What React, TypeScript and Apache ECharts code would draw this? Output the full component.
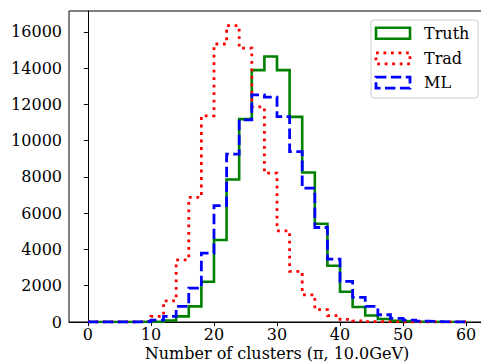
import React, { useEffect, useRef } from "react";
import * as echarts from "echarts";

const binEdges = [0, 2, 4, 6, 8, 10, 12, 14, 16, 18, 20, 22, 24, 26, 28, 30, 32, 34, 36, 38, 40, 42, 44, 46, 48, 50, 52, 54, 56, 58, 60];
const truthCounts = [0, 0, 0, 0, 5, 20, 80, 310, 860, 2220, 4520, 7860, 11190, 13890, 14640, 13890, 11310, 8240, 5420, 3100, 1670, 830, 360, 165, 60, 25, 10, 3, 1, 0];
const tradCounts = [0, 0, 0, 0, 30, 310, 1170, 3430, 6870, 11370, 15330, 16340, 15100, 11860, 8210, 5030, 2790, 1500, 680, 350, 150, 60, 20, 5, 1, 0, 0, 0, 0, 0];
const mlCounts = [0, 0, 0, 0, 20, 100, 310, 860, 1870, 3800, 6420, 9260, 11150, 12520, 12400, 11330, 9400, 7380, 5210, 3470, 2240, 1360, 860, 400, 200, 100, 50, 20, 5, 0];
const xTicks = [0, 10, 20, 30, 40, 50, 60];
const yTicks = [0, 2000, 4000, 6000, 8000, 10000, 12000, 14000, 16000];
const seriesNames = ["Truth", "Trad", "ML"];
const xAxisTitle = "Number of clusters (π, 10.0GeV)";

const FONT = "DejaVu Serif";

function stepData(counts: number[]) {
  const pts: number[][] = [[binEdges[0], 0]];
  counts.forEach((c, i) => pts.push([binEdges[i], c]));
  pts.push([binEdges[binEdges.length - 1], 0]);
  return pts;
}

export default function App() {
  const ref = useRef<HTMLDivElement>(null);
  useEffect(() => {
    if (!ref.current) return;
    const chart = echarts.init(ref.current, null, { renderer: "svg" });
    const styles = [
      { color: "#008000", type: "solid" as any, width: 2.6 },
      { color: "#ff0000", type: [2.8, 4.7] as any, width: 2.8 },
      { color: "#0000ff", type: [10.4, 4.5] as any, width: 2.8 },
    ];
    const datasets = [truthCounts, tradCounts, mlCounts];
    const legendX = 376;
    const legendYs = [33.3, 58.3, 82.7];
    const graphics: any[] = [
      {
        type: "rect",
        shape: { x: 371, y: 20, width: 107, height: 78, r: 3 },
        style: { fill: "rgba(255,255,255,0.8)", stroke: "#cccccc", lineWidth: 1 },
        z: 10,
      },
      {
        type: "text",
        x: 277,
        y: 353.5,
        style: {
          text: xAxisTitle,
          font: `16px "${FONT}"`,
          fill: "#000",
          align: "center",
          verticalAlign: "middle",
        },
        z: 11,
      },
    ];
    seriesNames.forEach((n, i) => {
      const s = styles[i];
      graphics.push({
        type: "rect",
        shape: { x: legendX, y: legendYs[i] - 5.5, width: 34, height: 11 },
        style: {
          fill: "none",
          stroke: s.color,
          lineWidth: s.width,
          lineDash: Array.isArray(s.type) ? s.type : null,
        },
        z: 11,
      });
      graphics.push({
        type: "text",
        x: 424,
        y: legendYs[i],
        style: {
          text: n,
          font: `16px "${FONT}"`,
          fill: "#000",
          verticalAlign: "middle",
          align: "left",
        },
        z: 11,
      });
    });

    chart.setOption({
      animation: false,
      backgroundColor: "#ffffff",
      textStyle: { fontFamily: FONT },
      grid: {
        left: 69,
        top: 11,
        right: -4,
        bottom: 363 - 322,
        show: true,
        borderColor: "#000",
        borderWidth: 1,
        containLabel: false,
        outerBoundsMode: "none",
      },
      xAxis: {
        type: "value",
        min: -3,
        max: 63,
        splitLine: { show: false },
        axisLine: { show: true, onZero: false, lineStyle: { color: "#000", width: 1 } },
        axisTick: { show: true, length: 4, lineStyle: { color: "#000" }, customValues: xTicks },
        axisLabel: {
          show: true,
          margin: 4,
          color: "#000",
          fontFamily: FONT,
          fontSize: 16,
          lineHeight: 16,
          customValues: xTicks,
          formatter: (v: number) => String(v),
        },
      },
      yAxis: {
        type: "value",
        min: 0,
        max: 17150,
        splitLine: { show: false },
        axisLine: { show: true, lineStyle: { color: "#000", width: 1 } },
        axisTick: { show: true, length: 4, lineStyle: { color: "#000" }, customValues: yTicks },
        axisLabel: {
          show: true,
          margin: 7,
          color: "#000",
          fontFamily: FONT,
          fontSize: 16,
          customValues: yTicks,
          formatter: (v: number) => String(v),
        },
      },
      series: datasets.map((d, i) => ({
        name: seriesNames[i],
        type: "line",
        step: "end",
        data: stepData(d),
        showSymbol: false,
        symbol: "none",
        silent: true,
        lineStyle: { color: styles[i].color, width: styles[i].width, type: styles[i].type, cap: "butt", join: "miter" },
        z: 2 + i,
      })),
      graphic: graphics,
    });
    return () => chart.dispose();
  }, []);
  return (
    <div
      ref={ref}
      style={{ position: "fixed", left: 0, top: 0, width: 481, height: 363 }}
    />
  );
}
